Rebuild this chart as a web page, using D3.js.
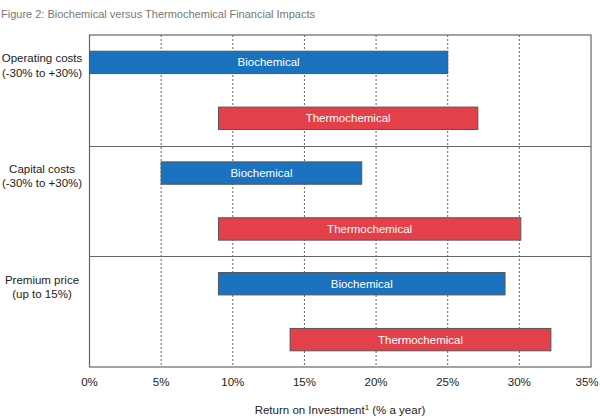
<!DOCTYPE html>
<html><head><meta charset="utf-8">
<script src="https://cdn.jsdelivr.net/npm/d3@7"></script>
<style>body{margin:0;background:#fff;font-family:Arial,"Liberation Sans",sans-serif;}</style>
</head><body><svg id="c" width="600" height="419"></svg>
<script>
const categories = [["Operating costs","(-30% to +30%)"],["Capital costs","(-30% to +30%)"],["Premium price","(up to 15%)"]];
const series = ["Biochemical","Thermochemical"];
const lowValues = [[0, 9],[5, 9],[9, 14]];
const highValues = [[25, 27.1],[19, 30.1],[29, 32.2]];
const tickValues = [0,5,10,15,20,25,30,35];
const colors = ["#1b72bf","#e3404a"];

const svg = d3.select("#c");
const L=89.5, R=591, T=35, B=367;
const x = d3.scaleLinear().domain([0,35]).range([L,R]);
const y = d3.scaleBand().domain(d3.range(categories.length)).range([T,B]);
const ys = d3.scaleBand().domain(series).range([0,y.bandwidth()]).paddingInner(0.6).paddingOuter(0.29);

svg.append("text").attr("x",1).attr("y",18).attr("font-size",11).attr("fill","#777").text("Figure 2: Biochemical versus Thermochemical Financial Impacts");

// grid
svg.selectAll(".g").data(tickValues.slice(1,-1)).join("line")
  .attr("x1",d=>x(d)).attr("x2",d=>x(d)).attr("y1",T).attr("y2",B)
  .attr("stroke","#666").attr("stroke-width",1).attr("stroke-dasharray","2,2");

// separators
svg.selectAll(".s").data(d3.range(1,categories.length)).join("line")
  .attr("x1",L).attr("x2",R).attr("y1",d=>Math.round(y(d))+0.5).attr("y2",d=>Math.round(y(d))+0.5)
  .attr("stroke","#666").attr("stroke-width",1);

// border
svg.append("rect").attr("x",L).attr("y",T).attr("width",R-L).attr("height",B-T).attr("fill","none").attr("stroke","#666").attr("stroke-width",1.2);

// bars
categories.forEach((c,i)=>{
  series.forEach((s,j)=>{
    const y0 = y(i)+ys(s);
    svg.append("rect").attr("x",x(lowValues[i][j])).attr("y",y0)
      .attr("width",x(highValues[i][j])-x(lowValues[i][j])).attr("height",ys.bandwidth())
      .attr("fill",colors[j]).attr("stroke","#555").attr("stroke-width",1);
    svg.append("text").attr("x",(x(lowValues[i][j])+x(highValues[i][j]))/2).attr("y",y0+ys.bandwidth()/2+4)
      .attr("text-anchor","middle").attr("font-size",11.5).attr("fill","#fff").text(s);
  });
  const t = svg.append("text").attr("x",42).attr("text-anchor","middle").attr("font-size",11.5).attr("fill","#222");
  t.append("tspan").attr("x",42).attr("y",y(i)+y.bandwidth()*0.25-0.5).text(c[0]);
  t.append("tspan").attr("x",42).attr("y",y(i)+y.bandwidth()*0.25+14).text(c[1]);
});

// axis labels
svg.selectAll(".t").data(tickValues).join("text")
  .attr("x",d=>Math.min(x(d),587)).attr("y",386).attr("text-anchor","middle").attr("font-size",11.5).attr("fill","#222").text(d=>d+"%");

const at = svg.append("text").attr("x",340).attr("y",414).attr("text-anchor","middle").attr("font-size",11.5).attr("fill","#222");
at.append("tspan").text("Return on Investment");
at.append("tspan").attr("font-size",8).attr("dy",-4).text("1");
at.append("tspan").attr("dy",4).text(" (% a year)");
</script></body></html>
